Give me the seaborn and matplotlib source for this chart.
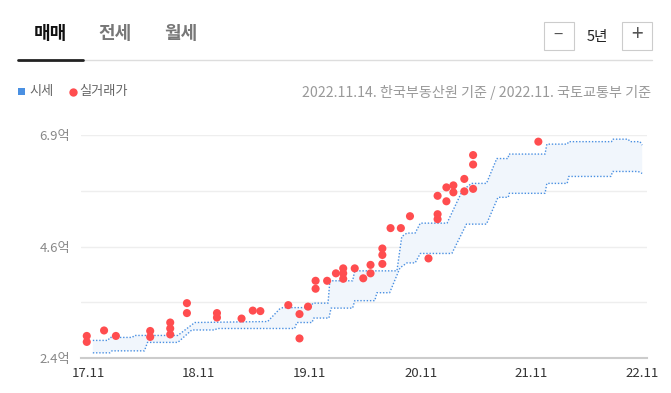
import numpy as np
import pandas as pd
import matplotlib.pyplot as plt
import matplotlib.dates as mdates
from matplotlib.lines import Line2D
from matplotlib.patches import Rectangle
import seaborn as sns

# ============== DATA ==============
# 시세 (한국부동산원) 상한 / 하한, 단위: 억
UPPER_DATES = ["2017-11-17", "2018-01-06", "2018-01-12", "2018-03-27", "2018-04-03", "2018-08-24",
               "2018-10-19", "2019-06-16", "2019-07-25", "2019-08-05", "2019-11-02", "2019-11-12",
               "2020-01-01", "2020-01-07", "2020-03-22", "2020-03-29", "2020-08-15", "2020-08-31",
               "2020-09-17", "2020-10-14", "2020-10-31", "2021-01-27", "2021-03-19", "2021-04-18",
               "2021-06-06", "2021-07-10", "2021-08-16", "2021-08-19", "2021-12-16", "2021-12-22",
               "2022-02-27", "2022-03-04", "2022-07-23", "2022-07-27", "2022-09-16", "2022-09-22",
               "2022-10-25", "2022-11-01"]
UPPER_VALUES = [2.76, 2.76, 2.82, 2.82, 2.86, 2.86, 3.12, 3.14, 3.39, 3.42, 3.42, 3.51,
                3.51, 3.96, 3.96, 4.16, 4.16, 4.85, 4.92, 4.92, 5.12, 5.12, 5.78, 5.92,
                5.92, 6.42, 6.42, 6.51, 6.51, 6.71, 6.71, 6.76, 6.76, 6.81, 6.81, 6.76,
                6.76, 6.69]

LOWER_DATES = ["2017-11-17", "2018-01-12", "2018-01-19", "2018-05-06", "2018-05-16", "2018-08-24",
               "2018-10-09", "2018-12-24", "2018-12-31", "2019-09-13", "2019-09-20", "2019-11-09",
               "2019-11-15", "2020-01-04", "2020-01-11", "2020-03-22", "2020-03-29", "2020-06-03",
               "2020-06-10", "2020-07-22", "2020-08-25", "2020-09-17", "2020-10-14", "2020-10-31",
               "2021-02-12", "2021-04-01", "2021-06-06", "2021-07-14", "2021-08-17", "2021-08-20",
               "2021-12-16", "2021-12-22", "2022-02-27", "2022-03-04", "2022-07-21", "2022-07-27",
               "2022-10-19", "2022-11-01"]
LOWER_VALUES = [2.51, 2.51, 2.55, 2.55, 2.72, 2.72, 2.97, 2.97, 3.00, 3.00, 3.12, 3.12,
                3.21, 3.21, 3.41, 3.41, 3.56, 3.56, 3.72, 3.72, 4.22, 4.32, 4.32, 4.51,
                4.51, 5.10, 5.10, 5.64, 5.64, 5.72, 5.72, 5.92, 5.92, 6.06, 6.06, 6.16,
                6.16, 6.12]

# 실거래가 (국토교통부)
DEAL_DATES = ["2017-10-28", "2017-10-28", "2017-12-24", "2018-02-01", "2018-05-25", "2018-05-25",
              "2018-07-30", "2018-07-30", "2018-07-30", "2018-09-23", "2018-09-23", "2018-12-31",
              "2018-12-31", "2019-03-22", "2019-04-28", "2019-05-23", "2019-08-23", "2019-09-29",
              "2019-09-29", "2019-10-27", "2019-11-21", "2019-11-21", "2019-12-29", "2020-01-27",
              "2020-02-20", "2020-02-20", "2020-02-20", "2020-03-29", "2020-04-26", "2020-05-20",
              "2020-05-20", "2020-06-28", "2020-06-28", "2020-06-28", "2020-07-25", "2020-08-28",
              "2020-09-27", "2020-11-27", "2020-12-27", "2020-12-27", "2020-12-27", "2021-01-25",
              "2021-01-25", "2021-02-17", "2021-02-17", "2021-03-25", "2021-03-25", "2021-04-23",
              "2021-04-23", "2021-04-23", "2021-11-24"]
DEAL_PRICES = [2.85, 2.73, 2.96, 2.85, 2.95, 2.83,
               3.12, 3.00, 2.88, 3.51, 3.31, 3.31,
               3.22, 3.20, 3.36, 3.35, 3.47, 3.29,
               2.80, 3.44, 3.96, 3.80, 3.96, 4.11,
               4.21, 4.11, 4.00, 4.21, 4.01, 4.28,
               4.11, 4.61, 4.48, 4.30, 5.02, 5.02,
               5.26, 4.41, 5.67, 5.30, 5.20, 5.84,
               5.56, 5.88, 5.74, 6.01, 5.76, 6.49,
               6.30, 5.81, 6.76]

X_TICKS = ["2017-11-01", "2018-11-01", "2019-11-01", "2020-11-01", "2021-11-01", "2022-11-01"]
X_TICK_LABELS = ["17.11", "18.11", "19.11", "20.11", "21.11", "22.11"]
Y_TICKS = [2.4, 3.525, 4.65, 5.775, 6.9]
Y_TICK_LABELS = ["2.4억", "", "4.6억", "", "6.9억"]

TABS = ["매매", "전세", "월세"]
PERIOD = "5년"
SOURCE_NOTE = "2022.11.14. 한국부동산원 기준 / 2022.11. 국토교통부 기준"
# ==================================

W, H = 671, 393
BLUE = "#4a90e2"
RED = "#ff4d4f"

sns.set_theme(style="white")
plt.rcParams['font.family'] = ['Noto Sans CJK KR', 'DejaVu Sans']


def fx(px):
    return px / W


def fy(py):
    return 1 - py / H


fig = plt.figure(figsize=(W / 100, H / 100), dpi=100)
ax = fig.add_axes([fx(81), fy(358.3), 566 / W, 223.6 / H])

up_x = pd.to_datetime(UPPER_DATES)
low_x = pd.to_datetime(LOWER_DATES)

# 시세 밴드
sns.lineplot(x=up_x, y=UPPER_VALUES, ax=ax, color=BLUE, lw=1.0,
             linestyle=(0, (1, 1.3)), zorder=3)
sns.lineplot(x=low_x, y=LOWER_VALUES, ax=ax, color=BLUE, lw=1.0,
             linestyle=(0, (1, 1.3)), zorder=3)
poly_x = np.concatenate([mdates.date2num(up_x), mdates.date2num(low_x)[::-1]])
poly_y = np.concatenate([UPPER_VALUES, LOWER_VALUES[::-1]])
ax.fill(poly_x, poly_y, color="#f1f6fc", lw=0, zorder=1)

# 실거래가
sns.scatterplot(x=pd.to_datetime(DEAL_DATES), y=DEAL_PRICES, ax=ax, color=RED,
                s=34, edgecolor="none", zorder=4, legend=False)

ax.set_xlim(pd.Timestamp("2017-10-09"), pd.Timestamp("2022-11-17"))
ax.set_ylim(2.4, 6.9)
ax.set_xticks(pd.to_datetime(X_TICKS))
ax.set_xticklabels(X_TICK_LABELS)
ax.set_yticks(Y_TICKS)
ax.set_yticklabels(Y_TICK_LABELS)
ax.tick_params(axis='x', length=0, pad=6, labelsize=9.5, labelcolor="#333333")
ax.tick_params(axis='y', length=0, pad=8, labelsize=9.5, labelcolor="#888888")
ax.set_xlabel("")
ax.set_ylabel("")
ax.yaxis.grid(True, color="#eeeeee", lw=1)
ax.xaxis.grid(False)
for side in ["left", "right", "top"]:
    ax.spines[side].set_visible(False)
ax.spines["bottom"].set_color("#cccccc")
ax.spines["bottom"].set_linewidth(1.5)

# 상단 탭
tab_x = [50.5, 115.5, 180.5]
tab_colors = ["#111111", "#777777", "#777777"]
for t, x, c in zip(TABS, tab_x, tab_colors):
    fig.text(fx(x), fy(33.5), t, ha="center", va="center", fontsize=13,
             fontweight="bold", color=c)
fig.add_artist(Line2D([fx(83), fx(651.5)], [fy(60), fy(60)], color="#dddddd", lw=1))
fig.add_artist(Line2D([fx(18), fx(83)], [fy(60), fy(60)], color="#222222", lw=2))

# 기간 버튼
for bx in [544, 622]:
    fig.add_artist(Rectangle((fx(bx), fy(50)), 29.5 / W, 28.5 / H, fill=False,
                             edgecolor="#cccccc", lw=0.8, transform=fig.transFigure))
fig.text(fx(558.5), fy(35.5), "−", ha="center", va="center", fontsize=12, color="#555555")
fig.text(fx(637), fy(35.5), "+", ha="center", va="center", fontsize=15,
         fontweight="light", color="#555555")
fig.text(fx(597.5), fy(36.5), PERIOD, ha="center", va="center", fontsize=10.5, color="#222222")

# 범례
fig.add_artist(Rectangle((fx(18), fy(95)), 7 / W, 7 / H, color=BLUE, lw=0,
                         transform=fig.transFigure))
fig.text(fx(29.5), fy(92), "시세", ha="left", va="center", fontsize=9.5, color="#666666")
fig.add_artist(Line2D([fx(73.3)], [fy(91.7)], marker="o", ms=6, color=RED, mew=0, lw=0))
fig.text(fx(79), fy(92), "실거래가", ha="left", va="center", fontsize=9.5, color="#666666")
fig.text(fx(651.5), fy(92), SOURCE_NOTE, ha="right", va="center", fontsize=10.2, color="#999999")

fig.savefig("out.png", dpi=100)
